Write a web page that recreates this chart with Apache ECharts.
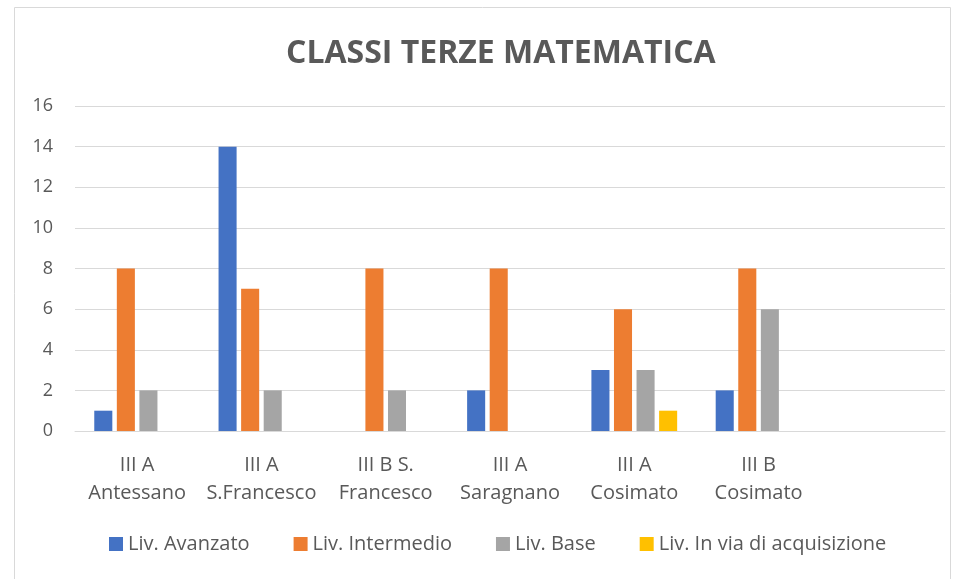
<!DOCTYPE html>
<html>
<head>
<meta charset="utf-8">
<script src="https://cdn.jsdelivr.net/npm/echarts@6/dist/echarts.min.js"></script>
<style>
  html, body { margin: 0; padding: 0; background: #fff; }
  #chart { width: 958px; height: 579px; }
</style>
</head>
<body>
<div id="chart"></div>
<script>
  // classi (l'ultima categoria è vuota, come nel grafico originale)
  var classi = ['III A\nAntessano', 'III A\nS.Francesco', 'III B S.\nFrancesco', 'III A\nSaragnano', 'III A\nCosimato', 'III B\nCosimato', '']
  var avanzato = [1, 14, 0, 2, 3, 2, null]
  var intermedio = [8, 7, 8, 8, 6, 8, null]
  var base = [2, 2, 2, 0, 3, 6, null]
  var inVia = [0, 0, 0, 0, 1, 0, null]
  var nomiSerie = ['Liv. Avanzato', 'Liv. Intermedio', 'Liv. Base', 'Liv. In via di acquisizione']
  var colori = ['#4472C4', '#ED7D31', '#A5A5A5', '#FFC000']

  var font = '"Open Sans", sans-serif'
  var grigio = '#595959'

  function serie(nome, dati) {
    return {
      name: nome,
      type: 'bar',
      data: dati,
      barGap: '25%',
      barCategoryGap: '31%'
    }
  }

  var myChart = echarts.init(document.getElementById('chart'))
  myChart.setOption({
    animation: false,
    color: colori,
    textStyle: { fontFamily: font },
    graphic: [{
      type: 'rect',
      shape: { x: 14.5, y: 7.5, width: 936, height: 600 },
      style: { fill: 'none', stroke: '#d9d9d9', lineWidth: 1 },
      silent: true
    }],
    title: {
      text: 'CLASSI TERZE MATEMATICA',
      left: 281,
      top: 33,
      textStyle: { fontFamily: font, fontSize: 32, fontWeight: 'bold', color: grigio }
    },
    legend: {
      data: nomiSerie,
      bottom: 20,
      left: 104,
      icon: 'rect',
      itemWidth: 14,
      itemHeight: 14,
      itemGap: 44,
      textStyle: { fontFamily: font, fontSize: 20, color: grigio }
    },
    grid: {
      left: 75,
      right: 13,
      top: 106,
      bottom: 148
    },
    xAxis: {
      type: 'category',
      data: classi,
      axisLine: { lineStyle: { color: '#d9d9d9', width: 1 } },
      axisTick: { show: false },
      axisLabel: {
        interval: 0,
        margin: 20,
        fontSize: 20,
        lineHeight: 28,
        color: grigio,
        fontFamily: font
      }
    },
    yAxis: {
      type: 'value',
      min: 0,
      max: 16,
      interval: 2,
      axisLine: { show: false },
      axisTick: { show: false },
      splitLine: { lineStyle: { color: '#d9d9d9', width: 1 } },
      axisLabel: { fontSize: 18, color: grigio, margin: 22, fontFamily: font }
    },
    series: [
      serie(nomiSerie[0], avanzato),
      serie(nomiSerie[1], intermedio),
      serie(nomiSerie[2], base),
      serie(nomiSerie[3], inVia)
    ]
  })
</script>
</body>
</html>
